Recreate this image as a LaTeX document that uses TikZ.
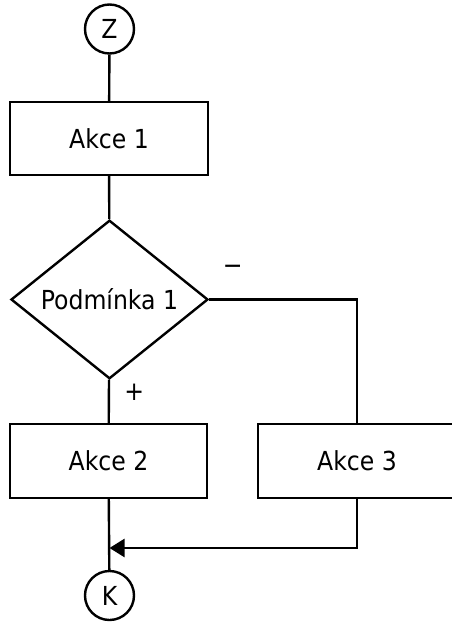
\documentclass[tikz,border=0pt]{standalone}
\usepackage{fontspec}
\setmainfont{DejaVu Sans Condensed}
\usetikzlibrary{shapes.geometric,arrows.meta}
\begin{document}
\begin{tikzpicture}[x=1pt,y=-1pt,line width=2.4pt,
        every node/.style={font=\fontsize{26.2}{30}\selectfont,inner sep=0pt}]
        \useasboundingbox (0,0) rectangle (451,624);
        \begin{scope}[every node/.style={font=\fontsize{26.2}{30}\selectfont,inner sep=0pt,draw,line width=2.4pt}]
        \node[circle,minimum size=49pt] (z) at (109.5,29) {Z};
        \node[rectangle,minimum width=198pt,minimum height=73pt] (a1) at (109,138.5) {Akce 1};
        \node[diamond,minimum width=197pt,minimum height=147pt] (p1) at (109.5,299.5) {Podmínka 1};
        \node[rectangle,minimum width=197pt,minimum height=74pt] (a2) at (108.5,461) {Akce 2};
        \node[rectangle,minimum width=198pt,minimum height=74pt] (a3) at (357,461) {Akce 3};
        \node[circle,minimum size=49pt] (k) at (109.5,595.5) {K};
        \end{scope}
        \node (minus) at (232.7,270) {−};
        \node (plus) at (134.3,392) {+};
        \coordinate (m) at (109.5,548);
        \begin{scope}[every edge/.style={draw=black,line width=2.4pt}]
        \path (z) edge (a1);
        \path (a1) edge (p1);
        \path (p1) edge (a2);
        \path (a2) edge (k);
        \end{scope}
        \draw (p1.east) -| (a3.north);
        \draw[-{Triangle[length=15pt,width=18pt]}] (a3.south) |- (m);
        \end{tikzpicture}
\end{document}
